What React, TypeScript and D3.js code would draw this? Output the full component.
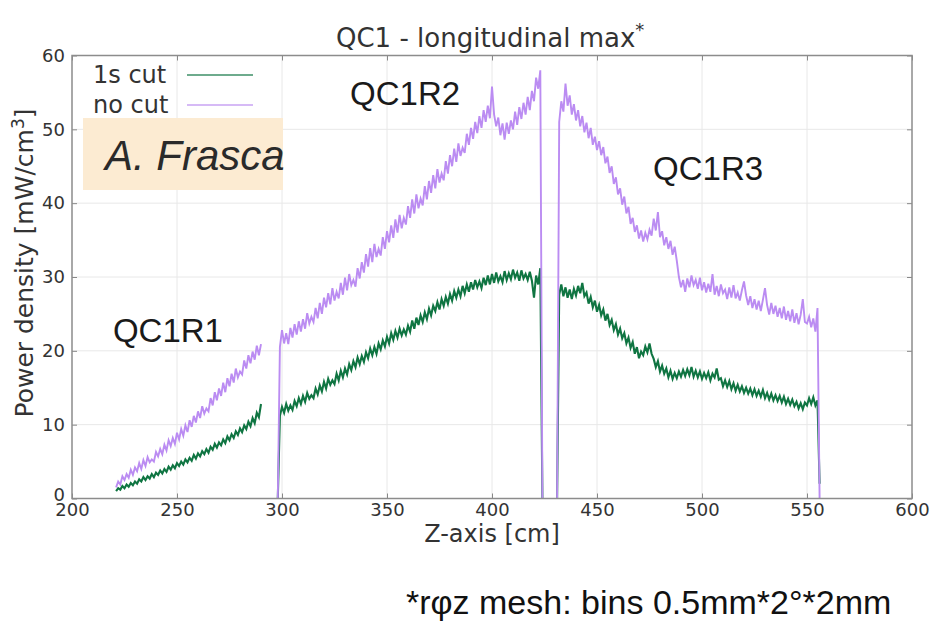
import React, { useEffect, useRef } from "react";
import * as d3 from "d3";

// z position (cm) of the first bin of each piece, bins are 1 cm wide
const segStart = [221, 298, 431];

// "1s cut" series, one array per piece (QC1R1, QC1R2, QC1R3)
const cut1 = [
  1.0, 1.4, 1.2, 1.7, 1.4, 1.9, 1.6, 2.1, 1.8, 2.3,
  2.0, 2.6, 2.3, 2.9, 2.5, 3.0, 2.7, 3.3, 2.9, 3.5,
  3.2, 3.8, 3.4, 4.0, 3.6, 4.3, 3.9, 4.5, 4.1, 4.8,
  4.4, 5.0, 4.6, 5.3, 4.9, 5.5, 5.1, 5.9, 5.4, 6.1,
  5.7, 6.4, 6.0, 6.7, 6.2, 7.0, 6.6, 7.4, 6.9, 7.6,
  7.2, 8.0, 7.5, 8.4, 7.9, 8.7, 8.2, 9.1, 8.6, 9.5,
  9.0, 9.9, 9.4, 10.4, 9.8, 10.9, 10.2, 11.6, 11.0, 12.8,
];
const cut2 = [
  0,
  11.2, 12.4, 11.6, 12.8, 11.9, 12.6, 12.0, 13.2, 12.5, 13.6,
  12.8, 13.9, 13.1, 14.3, 13.5, 14.0, 13.6, 14.9, 14.1, 15.3,
  14.5, 15.8, 14.9, 16.2, 15.4, 16.0, 15.5, 16.9, 16.0, 17.3,
  16.4, 17.6, 16.8, 18.2, 17.4, 18.6, 17.8, 19.1, 18.2, 19.3,
  18.5, 19.8, 19.0, 20.3, 19.4, 20.5, 19.6, 21.0, 20.2, 21.4,
  20.6, 21.9, 21.0, 22.4, 21.5, 22.7, 21.8, 23.0, 22.1, 22.9,
  22.2, 23.4, 22.6, 24.1, 23.0, 24.5, 23.5, 24.8, 23.9, 25.2,
  24.3, 25.7, 24.8, 26.1, 25.4, 26.6, 25.6, 27.0, 26.1, 27.3,
  26.4, 27.7, 26.8, 28.1, 27.2, 28.3, 27.4, 28.8, 27.8, 29.0,
  28.0, 29.3, 28.3, 29.6, 28.6, 29.4, 28.5, 29.9, 28.9, 30.2,
  29.0, 30.4, 29.2, 30.6, 29.4, 30.1, 29.3, 30.8, 29.6, 30.5,
  29.7, 31.0, 29.9, 30.6, 29.5, 30.9, 29.8, 30.4, 29.6, 30.7,
  29.5, 27.2, 30.2, 29.0, 31.2,
  0,
];
const cut3 = [
  0,
  27.6, 29.0, 27.4, 28.6, 27.2, 28.3, 27.0, 28.4, 27.5, 28.8,
  27.8, 29.2, 27.4, 27.9, 26.4, 27.3, 25.9, 26.8, 25.3, 26.2,
  24.8, 25.6, 24.1, 25.0, 23.5, 24.2, 22.8, 23.6, 22.2, 23.0,
  21.7, 22.4, 21.0, 21.8, 20.4, 21.2, 19.6, 20.5, 19.0, 19.9,
  19.4, 20.6, 19.8, 21.0, 19.6, 18.9, 17.8, 18.6, 17.2, 18.0,
  16.9, 17.6, 16.4, 17.3, 16.2, 17.0, 16.3, 17.2, 16.5, 17.4,
  16.6, 17.5, 16.7, 17.8, 16.5, 17.3, 16.4, 17.2, 16.2, 17.0,
  16.3, 17.1, 16.0, 16.9, 16.4, 17.6, 16.1, 16.3, 15.2, 16.0,
  15.1, 15.9, 14.8, 15.6, 14.6, 15.4, 14.5, 15.2, 14.3, 15.0,
  14.2, 14.9, 14.0, 14.8, 13.9, 14.6, 13.8, 14.7, 13.6, 14.3,
  13.4, 14.2, 13.3, 14.0, 13.2, 13.9, 13.0, 13.8, 12.8, 13.5,
  12.7, 13.4, 12.5, 13.1, 12.2, 12.9, 12.1, 13.0, 12.6, 13.6,
  12.8, 13.7, 12.6, 13.3,
  2.0,
];

// "no cut" series
const noCut1 = [
  1.5, 2.3, 1.9, 3.0, 2.5, 3.3, 2.8, 3.9, 3.2, 4.2,
  3.7, 4.8, 4.0, 5.2, 4.4, 5.6, 4.9, 5.3, 5.0, 6.3,
  5.7, 6.7, 6.0, 7.3, 6.5, 7.9, 7.1, 8.2, 7.4, 8.9,
  8.0, 9.4, 8.5, 9.9, 9.0, 10.6, 9.7, 11.2, 10.3, 11.8,
  10.9, 12.5, 11.5, 12.2, 11.8, 13.6, 12.6, 14.4, 13.3, 14.9,
  13.9, 15.7, 14.4, 16.3, 15.2, 16.9, 15.7, 17.6, 16.4, 17.2,
  16.8, 18.7, 17.6, 19.4, 18.3, 19.9, 18.8, 20.7, 19.4, 20.9,
];
const noCut2 = [
  0,
  20.5, 22.8, 21.0, 22.4, 20.9, 23.1, 21.8, 23.6, 22.2, 24.0,
  22.6, 24.3, 23.0, 25.1, 23.7, 24.6, 23.9, 25.8, 24.4, 26.5,
  25.0, 27.2, 25.9, 27.8, 26.3, 28.5, 26.8, 28.0, 27.1, 29.2,
  27.6, 29.9, 28.2, 30.4, 28.9, 29.6, 28.7, 31.2, 29.8, 32.0,
  30.6, 33.1, 31.4, 33.9, 32.0, 34.5, 32.7, 33.8, 32.9, 35.4,
  33.8, 36.2, 34.7, 37.0, 35.3, 37.8, 36.0, 38.4, 36.6, 38.0,
  37.1, 39.6, 38.0, 40.5, 38.6, 41.2, 39.3, 40.6, 39.7, 42.3,
  40.5, 43.0, 41.4, 43.8, 42.0, 44.6, 42.8, 44.0, 43.1, 45.7,
  44.0, 46.5, 45.0, 47.4, 45.6, 48.1, 46.4, 47.5, 46.8, 49.4,
  47.9, 50.2, 48.7, 51.0, 49.5, 51.8, 50.2, 52.6, 51.0, 53.2,
  51.5, 55.8, 52.0, 50.4, 51.6, 49.2, 50.8, 48.6, 50.9, 49.4,
  51.2, 50.0, 52.4, 50.6, 53.0, 51.4, 53.6, 52.0, 54.4, 52.6,
  55.2, 53.8, 57.0, 55.5, 58.0,
  0,
];
const noCut3 = [
  0,
  51.0, 53.8, 52.4, 56.2, 53.2, 54.6, 52.0, 53.4, 51.2, 52.6,
  50.4, 51.8, 49.6, 50.9, 48.8, 50.2, 47.9, 49.0, 47.2, 48.4,
  46.5, 47.6, 45.4, 46.3, 44.1, 45.0, 42.6, 43.5, 41.2, 42.0,
  39.8, 40.9, 38.6, 39.5, 37.2, 38.0, 36.1, 37.0, 35.2, 36.3,
  34.8, 36.0, 35.1, 36.4, 35.6, 37.9, 36.3, 38.8, 35.4, 36.2,
  34.3, 35.4, 33.8, 34.9, 33.0, 34.1, 32.2, 30.0, 28.6, 29.6,
  28.0, 29.8, 28.6, 30.2, 28.9, 29.6, 28.4, 29.9, 28.2, 29.3,
  27.9, 29.1, 28.0, 30.4, 27.6, 28.8, 27.4, 29.0, 27.8, 28.3,
  27.0, 28.6, 27.2, 28.9, 27.1, 27.9, 26.8, 28.2, 29.4, 27.5,
  26.2, 27.4, 25.8, 27.0, 25.6, 26.8, 25.4, 26.9, 28.5, 26.2,
  24.9, 26.5, 25.0, 26.1, 24.6, 25.8, 24.4, 26.0, 24.2, 25.4,
  24.0, 25.6, 23.8, 25.1, 23.6, 24.9, 27.0, 23.9, 23.7, 24.6,
  23.2, 24.4, 22.6, 25.8,
  0,
];

const seriesNames = ["1s cut", "no cut"];
const xTicks = [200, 250, 300, 350, 400, 450, 500, 550, 600];
const yTicks = [0, 10, 20, 30, 40, 50, 60];
const magnetNames = ["QC1R1", "QC1R2", "QC1R3"];

const W = 935;
const H = 626;
const green = "#0f7542";
const purple = "#bb8cf2";
const axisFont = "DejaVu Sans, sans-serif";
const slideFont = "Liberation Sans, Arial, sans-serif";

const App = () => {
  const svgRef = useRef<SVGSVGElement>(null);

  useEffect(() => {
    const svg = d3.select(svgRef.current);
    svg.selectAll("*").remove();

    const x = d3.scaleLinear().domain([200, 600]).range([72, 912]);
    const y = d3.scaleLinear().domain([0, 60]).range([498.5, 55.5]);

    // grid
    const grid = svg.append("g").attr("stroke", "#e8e8e8").attr("stroke-width", 1);
    grid
      .selectAll("line.gx")
      .data(xTicks.slice(1, -1))
      .join("line")
      .attr("x1", (d) => x(d))
      .attr("x2", (d) => x(d))
      .attr("y1", y(0))
      .attr("y2", y(60));
    grid
      .selectAll("line.gy")
      .data(yTicks.slice(1, -1))
      .join("line")
      .attr("class", "gy")
      .attr("x1", x(200))
      .attr("x2", x(600))
      .attr("y1", (d) => y(d))
      .attr("y2", (d) => y(d));

    // data lines, 1s cut first then no cut on top (like the plot order)
    const line = (start: number) =>
      d3
        .line<number>()
        .x((d, i) => x(start + i))
        .y((d) => y(d));

    const series = [
      { name: seriesNames[0], color: green, width: 2.1, segs: [cut1, cut2, cut3] },
      { name: seriesNames[1], color: purple, width: 1.9, segs: [noCut1, noCut2, noCut3] },
    ];
    series.forEach((s) => {
      s.segs.forEach((vals, k) => {
        svg
          .append("path")
          .attr("d", line(segStart[k])(vals))
          .attr("fill", "none")
          .attr("stroke", s.color)
          .attr("stroke-width", s.width)
          .attr("stroke-linejoin", "miter");
      });
    });

    // axes (ticks point inwards)
    const xAxis = svg
      .append("g")
      .attr("transform", `translate(0,${y(0)})`)
      .call(d3.axisBottom(x).tickValues(xTicks).tickSize(-5).tickPadding(5));
    const yAxis = svg
      .append("g")
      .attr("transform", `translate(${x(200)},0)`)
      .call(d3.axisLeft(y).tickValues(yTicks).tickSize(-5).tickPadding(7));
    svg
      .append("g")
      .attr("transform", `translate(0,${y(60)})`)
      .call(d3.axisTop(x).tickValues(xTicks).tickSize(-5).tickFormat(() => ""));
    svg
      .append("g")
      .attr("transform", `translate(${x(600)},0)`)
      .call(d3.axisRight(y).tickValues(yTicks).tickSize(-5).tickFormat(() => ""));
    svg.selectAll(".domain").remove();
    svg.selectAll(".tick line").attr("stroke", "#888");
    [xAxis, yAxis].forEach((a) =>
      a
        .selectAll("text")
        .attr("font-family", axisFont)
        .attr("font-size", 18)
        .attr("fill", "#333")
    );
    // the "0" sits a little high in the original, just over the "200"
    yAxis.selectAll("text").filter((d) => d === 0).attr("dy", "0.1em");

    svg
      .append("rect")
      .attr("x", x(200))
      .attr("y", y(60))
      .attr("width", x(600) - x(200))
      .attr("height", y(0) - y(60))
      .attr("fill", "none")
      .attr("stroke", "#8c8c8c")
      .attr("stroke-width", 1.5);

    // title + axis labels
    const title = svg
      .append("text")
      .attr("x", 336)
      .attr("y", 47)
      .attr("font-family", axisFont)
      .attr("font-size", 26)
      .attr("fill", "#333")
      .text("QC1 - longitudinal max");
    title.append("tspan").attr("dy", -11).attr("font-size", 18).text("*");

    svg
      .append("text")
      .attr("x", (x(200) + x(600)) / 2)
      .attr("y", 542)
      .attr("text-anchor", "middle")
      .attr("font-family", axisFont)
      .attr("font-size", 24)
      .attr("fill", "#333")
      .text("Z-axis [cm]");

    const yl = svg
      .append("text")
      .attr("transform", "translate(33,263) rotate(-90)")
      .attr("text-anchor", "middle")
      .attr("font-family", axisFont)
      .attr("font-size", 25)
      .attr("fill", "#333")
      .text("Power density [mW/cm");
    yl.append("tspan").attr("dy", -9).attr("font-size", 17).text("3");
    yl.append("tspan").attr("dy", 9).text("]");

    // legend
    series.forEach((s, i) => {
      const ly = 75 + i * 30;
      svg
        .append("text")
        .attr("x", 93)
        .attr("y", ly + 8)
        .attr("font-family", axisFont)
        .attr("font-size", 24)
        .attr("fill", "#333")
        .text(s.name);
      svg
        .append("line")
        .attr("x1", 187)
        .attr("x2", 253)
        .attr("y1", ly)
        .attr("y2", ly)
        .attr("stroke", s.color)
        .attr("stroke-width", 1.3)
        .attr("opacity", 0.8);
    });

    // magnet names, placed in data coordinates
    const namePos = [
      [219.5, 21.2],
      [332.4, 53.3],
      [476.7, 43.1],
    ];
    magnetNames.forEach((n, i) => {
      svg
        .append("text")
        .attr("x", x(namePos[i][0]))
        .attr("y", y(namePos[i][1]))
        .attr("font-family", slideFont)
        .attr("font-size", 33)
        .attr("fill", "#1a1a1a")
        .text(n);
    });

    // author box
    svg
      .append("rect")
      .attr("x", 83)
      .attr("y", 118)
      .attr("width", 200)
      .attr("height", 72)
      .attr("fill", "#fcebd2");
    svg
      .append("text")
      .attr("x", 105)
      .attr("y", 170)
      .attr("font-family", slideFont)
      .attr("font-style", "italic")
      .attr("font-size", 42)
      .attr("fill", "#2a2a2a")
      .text("A. Frasca");

    // footnote
    svg
      .append("text")
      .attr("x", 406)
      .attr("y", 614)
      .attr("font-family", slideFont)
      .attr("font-size", 34)
      .attr("fill", "#111")
      .text("*rφz mesh: bins 0.5mm*2°*2mm");
  }, []);

  return (
    <svg
      ref={svgRef}
      width={W}
      height={H}
      style={{ position: "absolute", left: 0, top: 0, background: "#fff" }}
    />
  );
};

export default App;
